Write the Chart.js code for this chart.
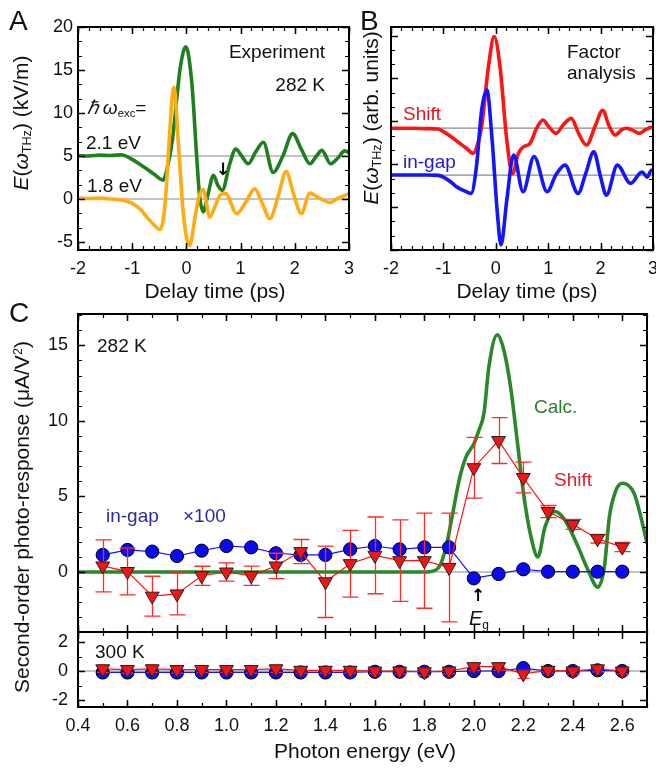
<!DOCTYPE html>
<html>
<head>
<meta charset="utf-8">
<script src="https://cdn.jsdelivr.net/npm/chart.js@4.4.1/dist/chart.umd.min.js"></script>
<style>
  html, body { margin: 0; padding: 0; background: #fff; }
  #wrap { position: relative; width: 656px; height: 771px; overflow: hidden;
          font-family: "Liberation Sans", Arial, Helvetica, sans-serif; color: #111; }
  canvas { position: absolute; left: 0; top: 0; }
  .t  { position: absolute; white-space: nowrap; line-height: 1; font-size: 19px; }
  .lc { transform: translate(0, -50%); }
  .rc { transform: translate(-100%, -50%); }
  .cc { transform: translate(-50%, -50%); }
  .rot { transform: translate(-50%, -50%) rotate(-90deg); font-size: 21px; }
  .ttl { font-size: 21px; }
  .pl  { font-size: 28px; }
  .arr { font-family: "DejaVu Sans", sans-serif; font-size: 17px; font-weight: bold; color: #000; }
  sub  { font-size: 0.6em; vertical-align: -0.3em; line-height: 0; }
  sup  { font-size: 0.6em; vertical-align: 0.5em; line-height: 0; }
</style>
</head>
<body>
<div id="wrap">
  <canvas id="cA" width="656" height="771"></canvas>
  <canvas id="cB" width="656" height="771"></canvas>
  <canvas id="cC" width="656" height="771"></canvas>
  <canvas id="cD" width="656" height="771"></canvas>

  <!-- panel A -->
  <div class="t lc pl" style="left:9px;top:21px">A</div>
  <div class="t rc" style="left:325px;top:51px">Experiment</div>
  <div class="t rc" style="left:325px;top:84px">282 K</div>
  <div class="t lc" style="left:87px;top:107px"><i>ℏ</i>&thinsp;<i>ω</i><sub>exc</sub>=</div>
  <div class="t lc" style="left:86px;top:142px">2.1 eV</div>
  <div class="t lc" style="left:87px;top:185px">1.8 eV</div>
  <div class="t cc arr" style="left:223px;top:169px">↓</div>
  <div class="t rot" style="left:20px;top:123px"><i>E</i>(<i>ω</i><sub>THz</sub>) (kV/m)</div>
  <div class="t cc ttl" style="left:215px;top:290px">Delay time (ps)</div>

  <!-- panel B -->
  <div class="t lc pl" style="left:360px;top:21px">B</div>
  <div class="t lc" style="left:567px;top:51px">Factor</div>
  <div class="t lc" style="left:567px;top:72px">analysis</div>
  <div class="t lc" style="left:403px;top:113px;color:#e8141e">Shift</div>
  <div class="t lc" style="left:403px;top:161px;color:#1a1ad0">in-gap</div>
  <div class="t rot" style="left:370px;top:118px"><i>E</i>(<i>ω</i><sub>THz</sub>) (arb. units)</div>
  <div class="t cc ttl" style="left:527px;top:290px">Delay time (ps)</div>

  <!-- panel C -->
  <div class="t lc pl" style="left:9px;top:313px">C</div>
  <div class="t lc" style="left:97px;top:345px">282 K</div>
  <div class="t lc" style="left:106px;top:515px;color:#2a2aa8">in-gap</div>
  <div class="t lc" style="left:183px;top:515px;color:#2a2aa8">×100</div>
  <div class="t lc" style="left:534px;top:406px;color:#2e7d2e">Calc.</div>
  <div class="t lc" style="left:554px;top:479px;color:#e0202a">Shift</div>
  <div class="t cc arr" style="left:478px;top:595px">↑</div>
  <div class="t lc" style="left:469px;top:618px;font-size:20px"><i>E</i><sub>g</sub></div>
  <div class="t lc" style="left:95px;top:651px">300 K</div>
  <div class="t rot" style="left:21px;top:517px">Second-order photo-response (μA/V<sup>2</sup>)</div>
  <div class="t cc ttl" style="left:365px;top:750px">Photon energy (eV)</div>
</div>

<script>
"use strict";

// ── Panel A: measured THz field (kV/m), 2.1 eV trace offset by +5 ────────────
const tA21 = [-2, -1.8, -1.6, -1.4, -1.2, -1.0, -0.85, -0.73, -0.6, -0.43, -0.35, -0.26, -0.11, -0.01,
              0.1, 0.19, 0.24, 0.31, 0.4, 0.5, 0.58, 0.66, 0.8, 0.91, 1.02, 1.14, 1.28, 1.42, 1.6,
              1.78, 1.96, 2.12, 2.28, 2.4, 2.5, 2.66, 2.8, 2.92, 3.0];
const eA21 = [5.05, 5.0, 5.1, 5.05, 5.15, 4.6, 4.0, 3.5, 2.9, 2.2, 3.7, 6.8, 15.4, 17.7,
              13.5, 4.9, 0.6, -1.5, 0.6, 2.75, 1.6, 1.0, 4.1, 5.8, 5.0, 4.1, 5.5, 6.6, 3.1,
              5.0, 7.6, 5.8, 4.1, 5.0, 5.65, 4.1, 4.8, 5.6, 5.4];
const tA18 = [-2, -1.8, -1.6, -1.4, -1.2, -1.0, -0.85, -0.73, -0.6, -0.49, -0.43, -0.38, -0.33, -0.23,
              -0.14, -0.05, 0.06, 0.16, 0.23, 0.31, 0.43, 0.55, 0.63, 0.72, 0.93, 1.1, 1.26, 1.4,
              1.54, 1.7, 1.84, 1.98, 2.12, 2.28, 2.45, 2.65, 2.8, 3.0];
const eA18 = [0.1, 0.05, 0.1, 0.0, -0.1, -0.5, -1.2, -2.1, -3.0, -3.55, -2.5, 0.5, 5.65, 13.0,
              5.65, -2.1, -5.4, -2.1, 0.2, 1.1, -2.1, -0.5, 0.5, 0.65, -1.7, -0.3, 1.2, -0.5,
              -2.3, 0.5, 3.2, 0.5, -1.7, 0.7, 0.1, -0.4, 0.1, 0.6];
const baseA = [0, 5];

// ── Panel B: factor-analysis components (arb. units, offset) ─────────────────
const tBShift = [-2, -1.6, -1.3, -1.1, -1.0, -0.85, -0.68, -0.55, -0.43, -0.35, -0.27, -0.14, -0.03,
                 0.08, 0.21, 0.32, 0.43, 0.52, 0.65, 0.78, 0.9, 1.02, 1.15, 1.3, 1.44, 1.58, 1.73,
                 1.9, 2.04, 2.16, 2.28, 2.4, 2.49, 2.6, 2.74, 2.85, 2.97, 3.0];
const eBShift = [9.2, 9.2, 9.15, 9.1, 8.8, 8.2, 7.4, 6.8, 6.27, 7.3, 9.4, 16.4, 19.9,
                 16.4, 7.8, 3.9, 6.27, 7.0, 7.4, 9.2, 10.15, 9.3, 8.6, 9.7, 10.35, 8.6, 7.24,
                 9.5, 11.3, 9.5, 8.4, 9.0, 9.2, 9.0, 8.6, 9.0, 9.3, 9.3];
const tBGap = [-2, -1.6, -1.3, -1.1, -1.0, -0.85, -0.75, -0.6, -0.47, -0.37, -0.27, -0.17, -0.07,
               0.03, 0.1, 0.21, 0.34, 0.52, 0.73, 0.98, 1.15, 1.32, 1.57, 1.72, 1.87, 2.0, 2.11,
               2.32, 2.57, 2.79, 2.89, 2.97, 3.0];
const eBGap = [3.74, 3.74, 3.74, 3.7, 3.5, 2.9, 2.38, 1.9, 1.6, 4.7, 11.3, 13.65, 7.8,
               -0.72, -4.4, 0.83, 6.07, 1.8, 5.9, 1.8, 3.8, 4.9, 1.6, 4.0, 6.46, 3.5, 1.4,
               4.9, 2.77, 4.1, 3.5, 4.3, 4.3];
const baseB = [9.2, 3.74];

// ── Panel C: second-order photo-response (µA/V²) ─────────────────────────────
const photonE   = [0.5, 0.6, 0.7, 0.8, 0.9, 1.0, 1.1, 1.2, 1.3, 1.4, 1.5, 1.6, 1.7, 1.8, 1.9,
                   2.0, 2.1, 2.2, 2.3, 2.4, 2.5, 2.6];
const inGap282  = [1.13, 1.46, 1.35, 1.06, 1.41, 1.72, 1.63, 1.24, 1.13, 1.13, 1.5, 1.72, 1.5, 1.63, 1.63,
                   -0.42, -0.13, 0.18, 0.02, 0.02, 0.02, 0.02];
const shift282  = [0.4, 0.03, -1.6, -1.45, -0.25, 0.0, -0.25, 0.4, 1.35, -0.65, 0.55, 1.1, 0.75, 0.75, 0.3,
                   6.9, 8.7, 6.25, 4.0, 3.15, 2.2, 1.65];
const shift282Err = [1.72, 1.55, 1.32, 1.39, 0.63, 0.6, 0.64, 0.84, 0.8, 2.36, 2.21, 2.54, 2.7, 3.15, 3.6,
                     2.01, 1.52, 1.02, 0.4, 0.33, 0.28, 0.3];
const calcE = [0.4, 1.8, 1.821, 1.861, 1.888, 1.915, 1.941, 1.968, 2.001, 2.021, 2.041, 2.061, 2.095,
               2.121, 2.148, 2.175, 2.201, 2.228, 2.259, 2.288, 2.328, 2.368, 2.421, 2.461, 2.501,
               2.528, 2.548, 2.575, 2.601, 2.648, 2.675, 2.7];
const calcV = [0, 0, 0.02, 0.37, 1.68, 3.9, 6.1, 7.6, 8.5, 9.4, 10.5, 13.6, 15.7,
               14.7, 12.3, 8.74, 5.2, 2.56, 1.0, 3.0, 4.0, 3.44, 1.68, 0.15, -1.0,
               0.37, 3.66, 5.43, 5.87, 5.2, 3.66, 1.9];
const inGap300  = [-0.1, -0.1, -0.1, -0.1, -0.1, -0.1, -0.1, -0.1, -0.1, -0.1, -0.1, -0.05, -0.05, -0.05, -0.05,
                   0.0, 0.0, 0.2, 0.0, 0.0, 0.05, 0.0];
const shift300  = [0.15, 0.1, 0.15, 0.1, 0.1, 0.1, 0.1, 0.15, 0.05, 0.05, 0.05, 0.0, 0.0, -0.05, 0.0,
                   0.3, 0.3, -0.2, 0.05, 0.0, 0.15, 0.0];
const shift300Err = [0.25, 0.25, 0.25, 0.25, 0.2, 0.2, 0.25, 0.25, 0.2, 0.2, 0.2, 0.2, 0.2, 0.25, 0.2,
                     0.25, 0.25, 0.3, 0.2, 0.2, 0.2, 0.2];

// ── Tick labels ──────────────────────────────────────────────────────────────
const ticksAX  = [-2, -1, 0, 1, 2, 3];
const ticksAY  = [-5, 0, 5, 10, 15, 20];
const ticksCX  = [0.4, 0.6, 0.8, 1.0, 1.2, 1.4, 1.6, 1.8, 2.0, 2.2, 2.4, 2.6];
const ticksCY  = [0, 5, 10, 15];
const ticksC2Y = [-2, 0, 2];

// ── Colours ──────────────────────────────────────────────────────────────────
const CLR = {
  green:  "#1f7f1f",
  orange: "#ffab12",
  red:    "#ff1414",
  blue:   "#1414ff",
  calc:   "#2a872a",
  gray:   "#8a8a8a",
};

Chart.defaults.font.family = '"Liberation Sans", Arial, Helvetica, sans-serif';
Chart.defaults.font.size   = 18;
Chart.defaults.color       = "#111";
Chart.defaults.animation   = false;
Chart.defaults.events      = [];
Chart.defaults.plugins.legend.display  = false;
Chart.defaults.plugins.tooltip.enabled = false;

const W = 656, H = 771;

// frame + inward ticks on all four sides
const boxTicks = {
  id: "boxTicks",
  afterDatasetsDraw(chart, args, o) {
    const { ctx, chartArea: a, scales: { x, y } } = chart;
    ctx.save();
    ctx.strokeStyle = "#000";
    const run = (sc, step, len, lw, horiz) => {
      if (!step) return;
      ctx.lineWidth = lw;
      ctx.beginPath();
      const i0 = Math.ceil(sc.min / step - 1e-6), i1 = Math.floor(sc.max / step + 1e-6);
      for (let i = i0; i <= i1; i++) {
        const p = Math.round(sc.getPixelForValue(i * step)) + 0.5;
        if (horiz) {
          if (o.bottom !== false) { ctx.moveTo(p, a.bottom); ctx.lineTo(p, a.bottom - len); }
          if (o.top !== false)    { ctx.moveTo(p, a.top);    ctx.lineTo(p, a.top + len); }
        } else {
          ctx.moveTo(a.left, p);  ctx.lineTo(a.left + len, p);
          ctx.moveTo(a.right, p); ctx.lineTo(a.right - len, p);
        }
      }
      ctx.stroke();
    };
    run(x, o.xMinor, 4, 1.2, true);
    run(x, o.xMajor, 7, 1.5, true);
    run(y, o.yMinor, 4, 1.2, false);
    run(y, o.yMajor, 7, 1.5, false);
    ctx.lineWidth = 2;
    ctx.strokeRect(a.left, a.top, a.right - a.left, a.bottom - a.top);
    ctx.restore();
  },
};

// vertical error bars with caps, drawn just under their own dataset
const errBars = {
  id: "errBars",
  beforeDatasetDraw(chart, args) {
    const ds = chart.data.datasets[args.index];
    if (!ds.yErr) return;
    const { ctx, scales: { x, y } } = chart;
    ctx.save();
    ctx.strokeStyle = ds.errColor;
    ctx.lineWidth = 1.3;
    ctx.beginPath();
    ds.data.forEach((pt, i) => {
      const px = Math.round(x.getPixelForValue(pt.x)) + 0.5;
      const y1 = y.getPixelForValue(pt.y + ds.yErr[i]);
      const y2 = y.getPixelForValue(pt.y - ds.yErr[i]);
      ctx.moveTo(px, y1); ctx.lineTo(px, y2);
      ctx.moveTo(px - ds.cap, y1); ctx.lineTo(px + ds.cap, y1);
      ctx.moveTo(px - ds.cap, y2); ctx.lineTo(px + ds.cap, y2);
    });
    ctx.stroke();
    ctx.restore();
  },
};

const pts = (xs, ys) => xs.map((v, i) => ({ x: v, y: ys[i] }));

function curve(xs, ys, color, width, order) {
  return { data: pts(xs, ys), borderColor: color, borderWidth: width, pointRadius: 0,
           cubicInterpolationMode: "monotone", order };
}
function hline(v, x0, x1, order) {
  return { data: [{ x: x0, y: v }, { x: x1, y: v }], borderColor: CLR.gray, borderWidth: 1.2,
           pointRadius: 0, order };
}

// area: chart-area rectangle in page pixels; xs/ys: scale settings
function makeChart(id, area, xs, ys, datasets, ticks) {
  const xh = xs.labels ? 60 : 0;
  return new Chart(document.getElementById(id), {
    type: "line",
    data: { datasets },
    plugins: [boxTicks, errBars],
    options: {
      responsive: false,
      layout: { padding: { left: 0, top: area.top, right: W - area.right, bottom: H - area.bottom - xh } },
      plugins: { boxTicks: ticks },
      scales: {
        x: {
          type: "linear", min: xs.min, max: xs.max,
          grid: { display: false, drawTicks: false }, border: { display: false },
          ticks: { display: !!xs.labels, padding: xs.pad || 8, maxRotation: 0,
                   callback: v => xs.fmt ? xs.fmt(v) : v },
          afterBuildTicks: s => { s.ticks = (xs.labels || []).map(v => ({ value: v })); },
          afterFit: s => { s.height = xh; s.paddingLeft = 0; s.paddingRight = 0; },
        },
        y: {
          type: "linear", min: ys.min, max: ys.max,
          grid: { display: false, drawTicks: false }, border: { display: false },
          ticks: { display: !!ys.labels, padding: ys.pad || 5 },
          afterBuildTicks: s => { s.ticks = (ys.labels || []).map(v => ({ value: v })); },
          afterFit: s => { s.width = area.left; s.paddingTop = 0; s.paddingBottom = 0; },
        },
      },
    },
  });
}

// ── Panel A ──────────────────────────────────────────────────────────────────
makeChart("cA", { left: 78, top: 27, right: 349, bottom: 250 },
  { min: -2, max: 3, labels: ticksAX, pad: 8 },
  { min: -5.93, max: 20, labels: ticksAY, pad: 5 },
  [
    hline(baseA[0], -2, 3, 5),
    hline(baseA[1], -2, 3, 5),
    curve(tA21, eA21, CLR.green, 3.6, 2),
    curve(tA18, eA18, CLR.orange, 3.6, 1),
  ],
  { xMajor: 1, xMinor: 0.2, yMajor: 5, yMinor: 5 / 3 });

// ── Panel B ──────────────────────────────────────────────────────────────────
makeChart("cB", { left: 391, top: 27, right: 653, bottom: 250 },
  { min: -2, max: 3, labels: ticksAX, pad: 8 },
  { min: -5, max: 21, labels: null },
  [
    hline(baseB[0], -2, 3, 5),
    hline(baseB[1], -2, 3, 5),
    curve(tBShift, eBShift, CLR.red, 3.6, 2),
    curve(tBGap, eBGap, CLR.blue, 3.6, 1),
  ],
  { xMajor: 1, xMinor: 0.2, yMajor: 5, yMinor: 5 / 3 });

// ── Panel C (282 K) ──────────────────────────────────────────────────────────
function markerSets(gap, shift, err, cap) {
  return [
    { data: pts(photonE, gap), borderColor: CLR.blue, borderWidth: 1.2, pointStyle: "circle",
      pointRadius: 6.6, pointBackgroundColor: "#0a0af5", pointBorderColor: "#000",
      pointBorderWidth: 1, order: 2 },
    { data: pts(photonE, shift), borderColor: CLR.red, borderWidth: 1.2, pointStyle: "triangle",
      rotation: 180, pointRadius: 8, pointBackgroundColor: "#f51414", pointBorderColor: "#222",
      pointBorderWidth: 1, order: 1, yErr: err, errColor: "#ff2a2a", cap },
  ];
}

makeChart("cC", { left: 78, top: 314, right: 653, bottom: 632 },
  { min: 0.4, max: 2.7, labels: null },
  { min: -3.97, max: 17.07, labels: ticksCY, pad: 10 },
  [
    hline(0, 0.4, 2.7, 5),
    curve(calcE, calcV, CLR.calc, 3.6, 3),
    ...markerSets(inGap282, shift282, shift282Err, 8),
  ],
  { xMajor: 0.2, xMinor: 0.1, yMajor: 5, yMinor: 1 });

// ── Panel C (300 K) ──────────────────────────────────────────────────────────
makeChart("cD", { left: 78, top: 632, right: 653, bottom: 707 },
  { min: 0.4, max: 2.7, labels: ticksCX, pad: 8, fmt: v => v.toFixed(1) },
  { min: -2.48, max: 2.69, labels: ticksC2Y, pad: 10 },
  [
    hline(0, 0.4, 2.7, 5),
    ...markerSets(inGap300, shift300, shift300Err, 6),
  ],
  { xMajor: 0.2, xMinor: 0.1, yMajor: 2, yMinor: 1 });
</script>
</body>
</html>
